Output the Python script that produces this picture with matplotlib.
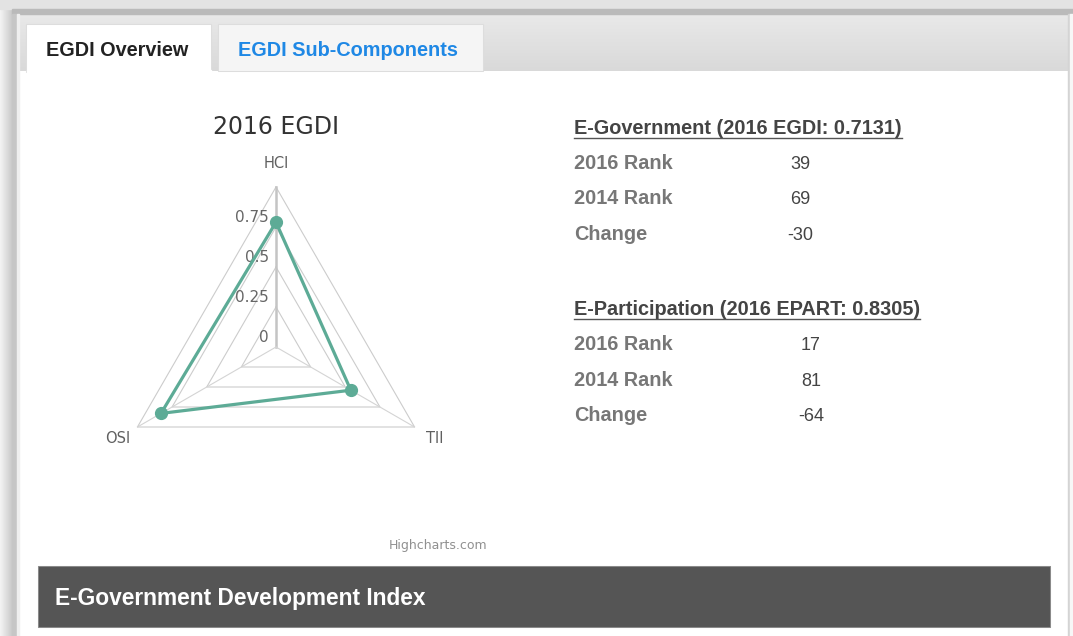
import numpy as np
import matplotlib
matplotlib.use("Agg")
import matplotlib.pyplot as plt
from matplotlib.patches import Rectangle
from matplotlib.colors import LinearSegmentedColormap

# === Data ===
categories = ["HCI", "TII", "OSI"]
egdi_values = [0.78, 0.54, 0.83]
ring_levels = [0.25, 0.5, 0.75, 1.0]
tick_values = [0, 0.25, 0.5, 0.75]
tick_labels = ["0", "0.25", "0.5", "0.75"]
chart_title = "2016 EGDI"

tab_labels = ["EGDI Overview", "EGDI Sub-Components"]
egov_header = "E-Government (2016 EGDI: 0.7131)"
epart_header = "E-Participation (2016 EPART: 0.8305)"
row_labels = ["2016 Rank", "2014 Rank", "Change"]
egov_ranks = ["39", "69", "-30"]
epart_ranks = ["17", "81", "-64"]
footer_title = "E-Government Development Index"

W, H = 1073, 636
plt.rcParams['font.family'] = ['Liberation Sans', 'DejaVu Sans']


# === Step 1: page chrome (pixel coordinates, y down) ===
def draw_page(fig):
    bg = fig.add_axes([0, 0, 1, 1])
    bg.axis("off")

    side = LinearSegmentedColormap.from_list("side", ["#f4f4f4", "#cbcbcb"])
    bg.imshow(np.linspace(0, 1, 24).reshape(1, -1), cmap=side,
              extent=(0, 12, H, 0), aspect="auto", zorder=0)
    bar = LinearSegmentedColormap.from_list("bar", ["#e9e9e9", "#d9d9d9"])
    bg.imshow(np.linspace(0, 1, 30).reshape(-1, 1), cmap=bar,
              extent=(19, 1068, 71, 14), aspect="auto", zorder=0)

    bg.add_patch(Rectangle((0, 0), W, 9, color="#e3e3e3", zorder=1))
    bg.add_patch(Rectangle((12, 9), W - 12, 5, color="#bababa", zorder=1))
    bg.add_patch(Rectangle((12, 14), 5, H, color="#c6c6c6", zorder=1))
    bg.add_patch(Rectangle((17, 14), 2, H, color="#efefef", zorder=1))
    bg.add_patch(Rectangle((1068, 14), 2, H, color="#d4d4d4", zorder=1))
    bg.add_patch(Rectangle((1070, 14), 3, H, color="#f7f7f7", zorder=1))

    # tabs
    bg.add_patch(Rectangle((218, 24), 265, 47, facecolor="#f5f5f5",
                           edgecolor="#dddddd", lw=0.75, zorder=2))
    bg.add_patch(Rectangle((26, 24), 185, 48, facecolor="white",
                           edgecolor="#dddddd", lw=0.75, zorder=2))
    bg.add_patch(Rectangle((26.5, 70), 184, 4, color="white", zorder=3))
    bg.text(46, 56, tab_labels[0], fontsize=14.3, fontweight="bold",
            color="#222222", va="baseline", zorder=4)
    bg.text(238, 56, tab_labels[1], fontsize=14.3, fontweight="bold",
            color="#1f88e5", va="baseline", zorder=4)

    # footer bar
    bg.add_patch(Rectangle((38, 566), 1012, 61, facecolor="#555555",
                           edgecolor="#8a8a8a", lw=0.75, zorder=2))
    bg.text(55, 605, footer_title, fontsize=16.4, fontweight="bold",
            color="white", va="baseline", zorder=4)

    bg.set_xlim(0, W)
    bg.set_ylim(H, 0)
    return bg


# === Step 2: rank tables on the right ===
def draw_tables(fig, bg):
    renderer = fig.canvas.get_renderer()
    blocks = [(egov_header, egov_ranks, 134, 800), (epart_header, epart_ranks, 315, 811)]
    for header, ranks, base, val_x in blocks:
        t = bg.text(574, base, header, fontsize=14.3, fontweight="bold",
                    color="#444444", va="baseline", zorder=4)
        bb = t.get_window_extent(renderer).transformed(bg.transData.inverted())
        bg.plot([bb.x0, bb.x1], [base + 3.5, base + 3.5], color="#555555",
                lw=1.0, zorder=4)
        for i, (lab, val) in enumerate(zip(row_labels, ranks)):
            y = base + 35 + 35.5 * i
            bg.text(574, y, lab, fontsize=14.3, fontweight="bold",
                    color="#777777", va="baseline", zorder=4)
            bg.text(val_x, y, val, fontsize=13, color="#444444",
                    ha="center", va="baseline", zorder=4)


# === Step 3: radar chart ===
def draw_radar(fig):
    ax = fig.add_axes([76 / W, 1 - 547 / H, 400 / W, 400 / H])
    ax.axis("off")
    ax.set_xlim(-1.25, 1.25)
    ax.set_ylim(-1.25, 1.25)

    angles = np.deg2rad(90 - 120 * np.arange(len(categories)))
    cx, cy = np.cos(angles), np.sin(angles)

    for lvl in ring_levels:
        ax.plot(np.append(cx, cx[0]) * lvl, np.append(cy, cy[0]) * lvl,
                color="#cccccc", lw=0.8, zorder=1)
    for i in range(len(categories)):
        ax.plot([0, cx[i]], [0, cy[i]], color="#c4c4c4" if i == 0 else "#d4d4d4",
                lw=1.8 if i == 0 else 0.8, zorder=1)

    vals = np.array(egdi_values)
    ax.plot(np.append(cx * vals, cx[0] * vals[0]), np.append(cy * vals, cy[0] * vals[0]),
            color="#5dab96", lw=2.3, zorder=3, solid_joinstyle="round")
    ax.plot(cx * vals, cy * vals, "o", color="#5dab96", markersize=8.5, zorder=4)

    for v, lab in zip(tick_values, tick_labels):
        ax.annotate(lab, xy=(0, v), xytext=(-7, 10), textcoords="offset pixels",
                    ha="right", va="center", fontsize=11, color="#666666",
                    family="DejaVu Sans", zorder=2)

    for i, cat in enumerate(categories):
        ax.text(cx[i] * 1.145, cy[i] * 1.145, cat, ha="center", va="center",
                fontsize=10.5, color="#606060", family="DejaVu Sans")

    fig.text(276 / W, 1 - 127 / H, chart_title, ha="center", va="center",
             fontsize=17, color="#333333", family="DejaVu Sans")
    fig.text(438 / W, 1 - 546 / H, "Highcharts.com", ha="center", va="center",
             fontsize=9, color="#909090", family="DejaVu Sans")


def main():
    fig = plt.figure(figsize=(W / 100, H / 100), dpi=100, facecolor="white")
    bg = draw_page(fig)
    draw_tables(fig, bg)
    draw_radar(fig)
    fig.savefig("out.png", dpi=100, facecolor="white")


if __name__ == "__main__":
    main()
